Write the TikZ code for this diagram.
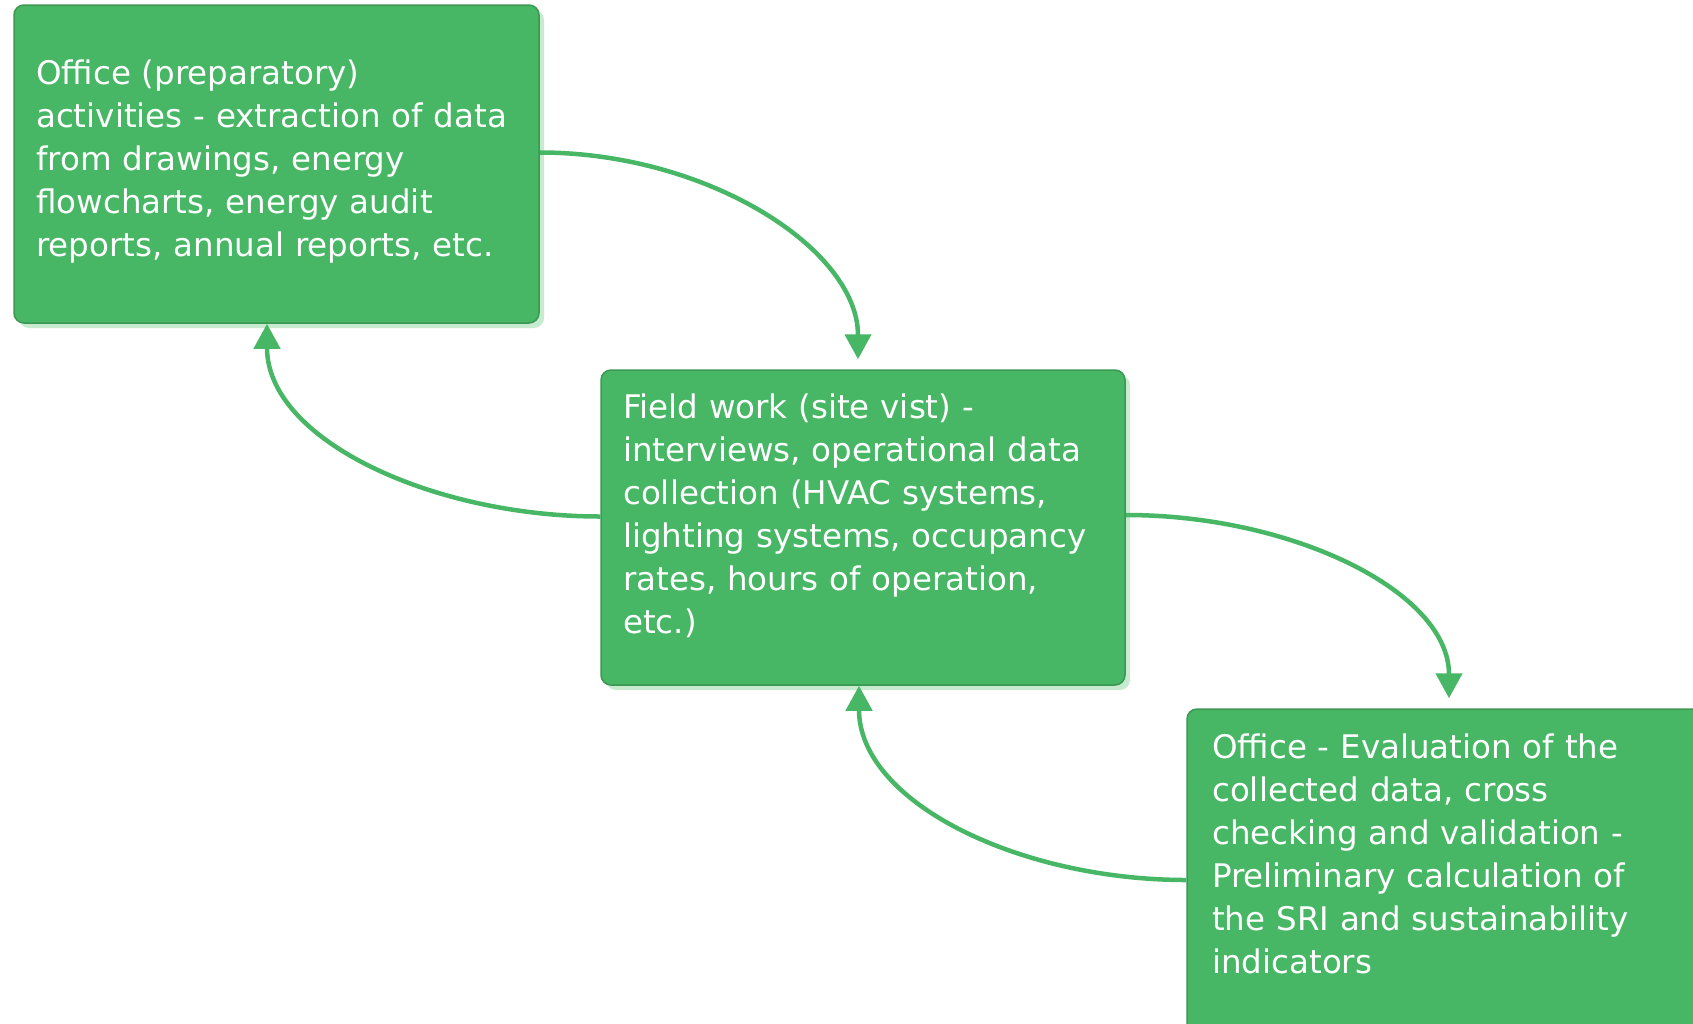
\documentclass[tikz,border=0pt]{standalone}
\usepackage{fontspec}
\setmainfont{DejaVu Sans}
\usetikzlibrary{arrows.meta,shadows}

\definecolor{panelgreen}{RGB}{72,183,101}
\definecolor{panelline}{RGB}{58,152,82}
\definecolor{shadowgreen}{RGB}{200,235,207}

\tikzset{
  panel/.style={draw=panelline, line width=1.5pt, fill=panelgreen,
    rounded corners=10pt, inner sep=0pt,
    general shadow={fill=shadowgreen, shadow xshift=5pt, shadow yshift=-5pt}},
  paneltext/.style={text=white, anchor=base west, inner sep=0pt,
    text width=520pt, align=left,
    font=\fontsize{32.5pt}{43pt}\selectfont},
  flow/.style={draw=panelgreen, line width=4.5pt,
    -{Triangle[length=25pt,width=26pt]}},
  gap/.style={shorten >=10pt}
}

\begin{document}
\begin{tikzpicture}[x=1pt, y=-1pt]
  \useasboundingbox (0,0) rectangle (1693,1023);
  \clip (0,0) rectangle (1693,1023);

  % the three activity panels
  \node[panel, minimum width=525pt, minimum height=318pt] (prep)  at (276.5,164) {};
  \node[panel, minimum width=524pt, minimum height=315pt] (field) at (863,527.5) {};
  \node[panel, minimum width=524pt, minimum height=342pt] (eval)  at (1449,880) {};

  % panel texts
  \node[paneltext] (preptext) at (36,84)
    {Office (preparatory)\\activities - extraction of data\\from drawings, energy\\flowcharts, energy audit\\reports, annual reports, etc.};
  \node[paneltext] (fieldtext) at (623,418)
    {Field work (site vist) -\\interviews, operational data\\collection (HVAC systems,\\lighting systems, occupancy\\rates, hours of operation,\\etc.)};
  \node[paneltext] (evaltext) at (1212,758)
    {Office - Evaluation of the\\collected data, cross\\checking and validation -\\Preliminary calculation of\\the SRI and sustainability\\indicators};

  % cycle between office work and field work
  \draw[flow, gap] ([yshift=11.5pt]prep.east)
    .. controls +(168,0) and +(0,-120) .. ([xshift=-5pt]field.north);
  \draw[flow] ([yshift=11pt]field.west)
    .. controls +(-168,0) and +(0,116) .. ([xshift=-9.5pt]prep.south);
  \draw[flow, gap] ([yshift=12.5pt]field.east)
    .. controls +(168,0) and +(0,-116) .. (eval.north);
  \draw[flow] (eval.west)
    .. controls +(-168,0) and +(0,116) .. ([xshift=-4pt]field.south);
\end{tikzpicture}
\end{document}
